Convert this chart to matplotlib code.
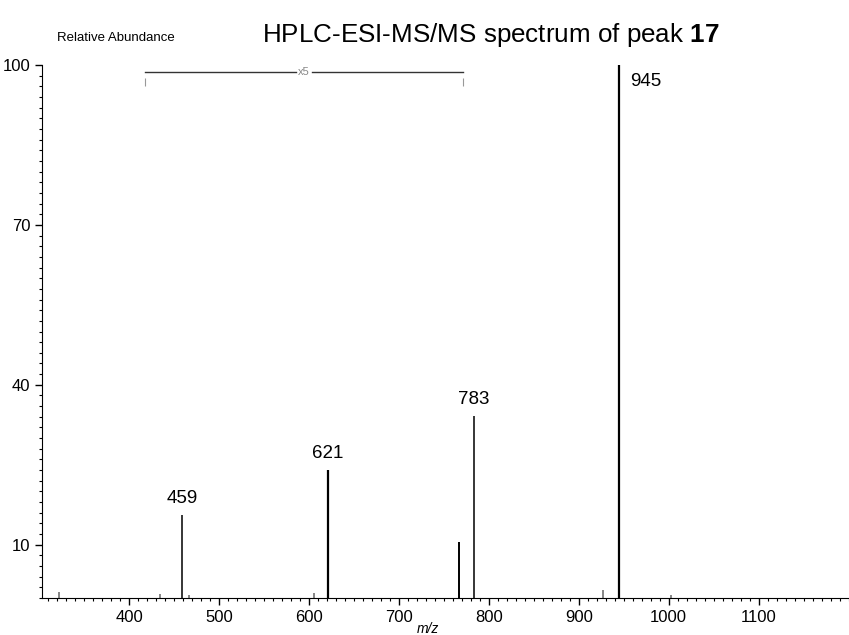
import matplotlib
matplotlib.use("Agg")
import matplotlib.pyplot as plt
from matplotlib.ticker import MultipleLocator

plt.rcParams["font.family"] = ["Liberation Sans", "DejaVu Sans"]
plt.rcParams["mathtext.fontset"] = "custom"
plt.rcParams["mathtext.bf"] = "Liberation Sans:bold"

# fragment ions (m/z, relative abundance)
mz = [322, 434, 459, 466, 605, 621, 767, 783, 927, 945, 1003]
abundance = [1.2, 0.8, 15.6, 0.6, 0.9, 24.0, 10.5, 34.2, 1.5, 100.0, 0.5]
labelled = [459, 621, 783, 945]

# magnified region marker
zoom_from, zoom_to, zoom_level = 418, 771, 98.6

x_ticks = [400, 500, 600, 700, 800, 900, 1000, 1100]
y_ticks = [10, 40, 70, 100]

fig = plt.figure(figsize=(8.49, 6.35), dpi=100)
ax = fig.add_axes([0.0495, 0.0583, 0.95, 0.8393])

widths = {621: 1.6, 945: 1.6, 767: 1.4}
for m, a in zip(mz, abundance):
    ax.vlines(m, 0, a, color="black" if a > 5 else "#666666",
              linewidth=widths.get(m, 1.1))

for m in labelled:
    a = abundance[mz.index(m)]
    if m == 945:
        ax.text(m + 12, a - 3, str(m), fontsize=13.5, ha="left", va="center")
    else:
        ax.text(m, a + 1.5, str(m), fontsize=13.5, ha="center", va="bottom")

# x5 bracket
ax.plot([zoom_from, 586], [zoom_level, zoom_level], color="#333333", linewidth=1)
ax.plot([603, zoom_to], [zoom_level, zoom_level], color="#333333", linewidth=1)
ax.vlines([zoom_from, zoom_to], zoom_level - 2.5, zoom_level - 1.0,
          color="#999999", linewidth=0.8)
ax.text((586 + 603) / 2, zoom_level, "x5", fontsize=8, color="#888888",
        ha="center", va="center")

ax.set_xlim(303, 1200)
ax.set_ylim(0, 100)
ax.set_xticks(x_ticks)
ax.set_yticks(y_ticks)
ax.xaxis.set_minor_locator(MultipleLocator(10))
ax.yaxis.set_minor_locator(MultipleLocator(2))
ax.tick_params(which="major", direction="out", length=5, width=1, labelsize=12)
ax.tick_params(which="minor", direction="out", length=2.5, width=0.8)
ax.spines["top"].set_visible(False)
ax.spines["right"].set_visible(False)
ax.spines["left"].set_bounds(0, 100)

ax.text(0.478, -0.058, "m/z", transform=ax.transAxes, fontsize=10,
        style="italic", ha="center", va="center")
fig.text(0.067, 0.94, "Relative Abundance", fontsize=9.5, va="center")
fig.text(0.578, 0.945, r"HPLC-ESI-MS/MS spectrum of peak $\mathbf{17}$",
         fontsize=18.7, ha="center", va="center")

fig.savefig("out.png", dpi=100)
